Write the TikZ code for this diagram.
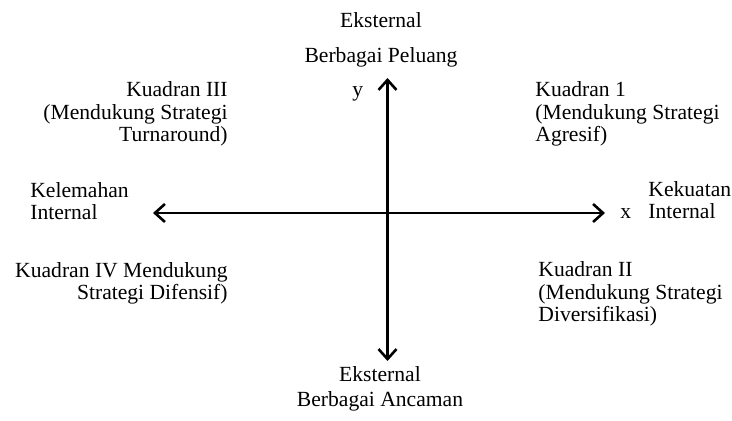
\documentclass[tikz,border=0pt]{standalone}
\usepackage{fontspec}
\setmainfont{Liberation Serif}
\usetikzlibrary{arrows.meta}
\tikzset{
  axis/.style={line width=1.3pt,{Straight Barb[length=5pt,width=9pt,line width=1.3pt]}-{Straight Barb[length=5pt,width=9pt,line width=1.3pt]}},
  label/.style={inner sep=0pt,font=\fontsize{10.8pt}{11.25pt}\selectfont},
}
\begin{document}
\begin{tikzpicture}[x=0.5pt,y=-0.5pt]
\useasboundingbox (0,0) rectangle (732,421);
\coordinate (left) at (153,213);
\coordinate (right) at (605,213);
\coordinate (top) at (387.5,78);
\coordinate (bottom) at (387.5,361);
\draw[axis] (left) -- (right);
\draw[axis] (bottom) -- (top);
% axis ends
\node[label,anchor=base] (ekstop) at (381,28) {Eksternal};
\node[label,anchor=base] (peluang) at (381,63) {Berbagai Peluang};
\node[label,anchor=base] (eksbot) at (380,382) {Eksternal};
\node[label,anchor=base] (ancaman) at (380,407) {Berbagai Ancaman};
\node[label,anchor=base west,align=left] (lemah) at (30,220) {Kelemahan\\Internal};
\node[label,anchor=base west,align=left] (kuat) at (648,219) {Kekuatan\\Internal};
\node[label,anchor=base west] (xlab) at (620,219) {x};
\node[label,anchor=base west] (ylab) at (352,97) {y};
% quadrants
\node[label,anchor=base east,align=right] (k3) at (228,142) {Kuadran III\\(Mendukung Strategi\\Turnaround)};
\node[label,anchor=base west,align=left] (k1) at (535,142) {Kuadran 1\\(Mendukung Strategi\\Agresif)};
\node[label,anchor=base east,align=right] (k4) at (228,300) {Kuadran IV Mendukung\\Strategi Difensif)};
\node[label,anchor=base west,align=left] (k2) at (538,322) {Kuadran II\\(Mendukung Strategi\\Diversifikasi)};
\end{tikzpicture}
\end{document}
